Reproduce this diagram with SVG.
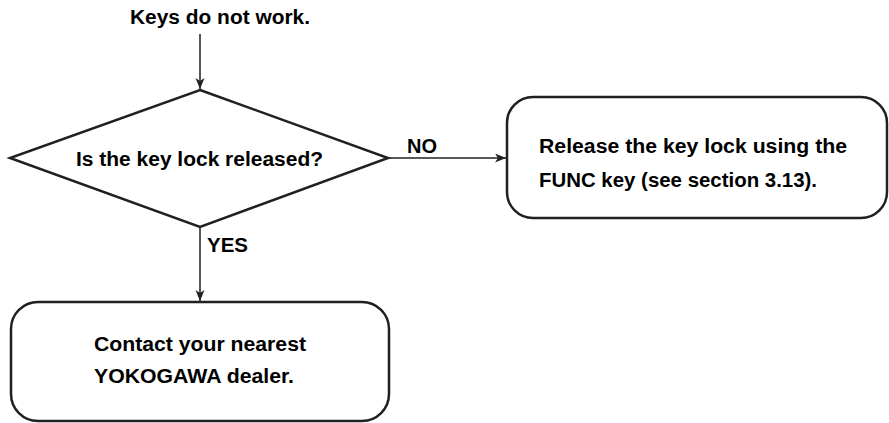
<svg xmlns="http://www.w3.org/2000/svg" width="889" height="423" viewBox="0 0 889 423">
<style>
.shape{fill:#fff;stroke:#231f20;stroke-width:2.5}
.conn{fill:none;stroke:#231f20;stroke-width:1.5}
text{font-family:"Liberation Sans",Arial,sans-serif;font-weight:bold;font-size:20px;fill:#000}
</style>
<defs>
<marker id="arr" markerWidth="12" markerHeight="10" refX="11" refY="4.5" orient="auto" markerUnits="userSpaceOnUse">
<path d="M0,0 L11,4.5 L0,9 L3,4.5 z" fill="#231f20"/>
</marker>
</defs>
<rect width="889" height="423" fill="#fff"/>
<g id="connectors">
<line class="conn" x1="200" y1="34" x2="200" y2="89" marker-end="url(#arr)"/>
<line class="conn" x1="388" y1="158" x2="506" y2="158" marker-end="url(#arr)"/>
<line class="conn" x1="200" y1="227" x2="200" y2="301" marker-end="url(#arr)"/>
<text x="407" y="153" textLength="30" lengthAdjust="spacingAndGlyphs">NO</text>
<text x="207" y="252" textLength="41" lengthAdjust="spacingAndGlyphs">YES</text>
</g>
<g id="start">
<text x="130" y="24" textLength="180" lengthAdjust="spacingAndGlyphs">Keys do not work.</text>
</g>
<g id="decision">
<polygon class="shape" points="200,90 388,158 200,227 10,158"/>
<text x="76" y="166" textLength="247" lengthAdjust="spacingAndGlyphs">Is the key lock released?</text>
</g>
<g id="release">
<rect class="shape" x="507" y="97" width="380" height="121" rx="26" ry="26"/>
<text x="539" y="153" textLength="308" lengthAdjust="spacingAndGlyphs">Release the key lock using the</text>
<text x="539" y="187" textLength="278" lengthAdjust="spacingAndGlyphs">FUNC key (see section 3.13).</text>
</g>
<g id="contact">
<rect class="shape" x="11" y="302" width="378" height="119" rx="27" ry="27"/>
<text x="94" y="351" textLength="212" lengthAdjust="spacingAndGlyphs">Contact your nearest</text>
<text x="94" y="383" textLength="200" lengthAdjust="spacingAndGlyphs">YOKOGAWA dealer.</text>
</g>
</svg>
